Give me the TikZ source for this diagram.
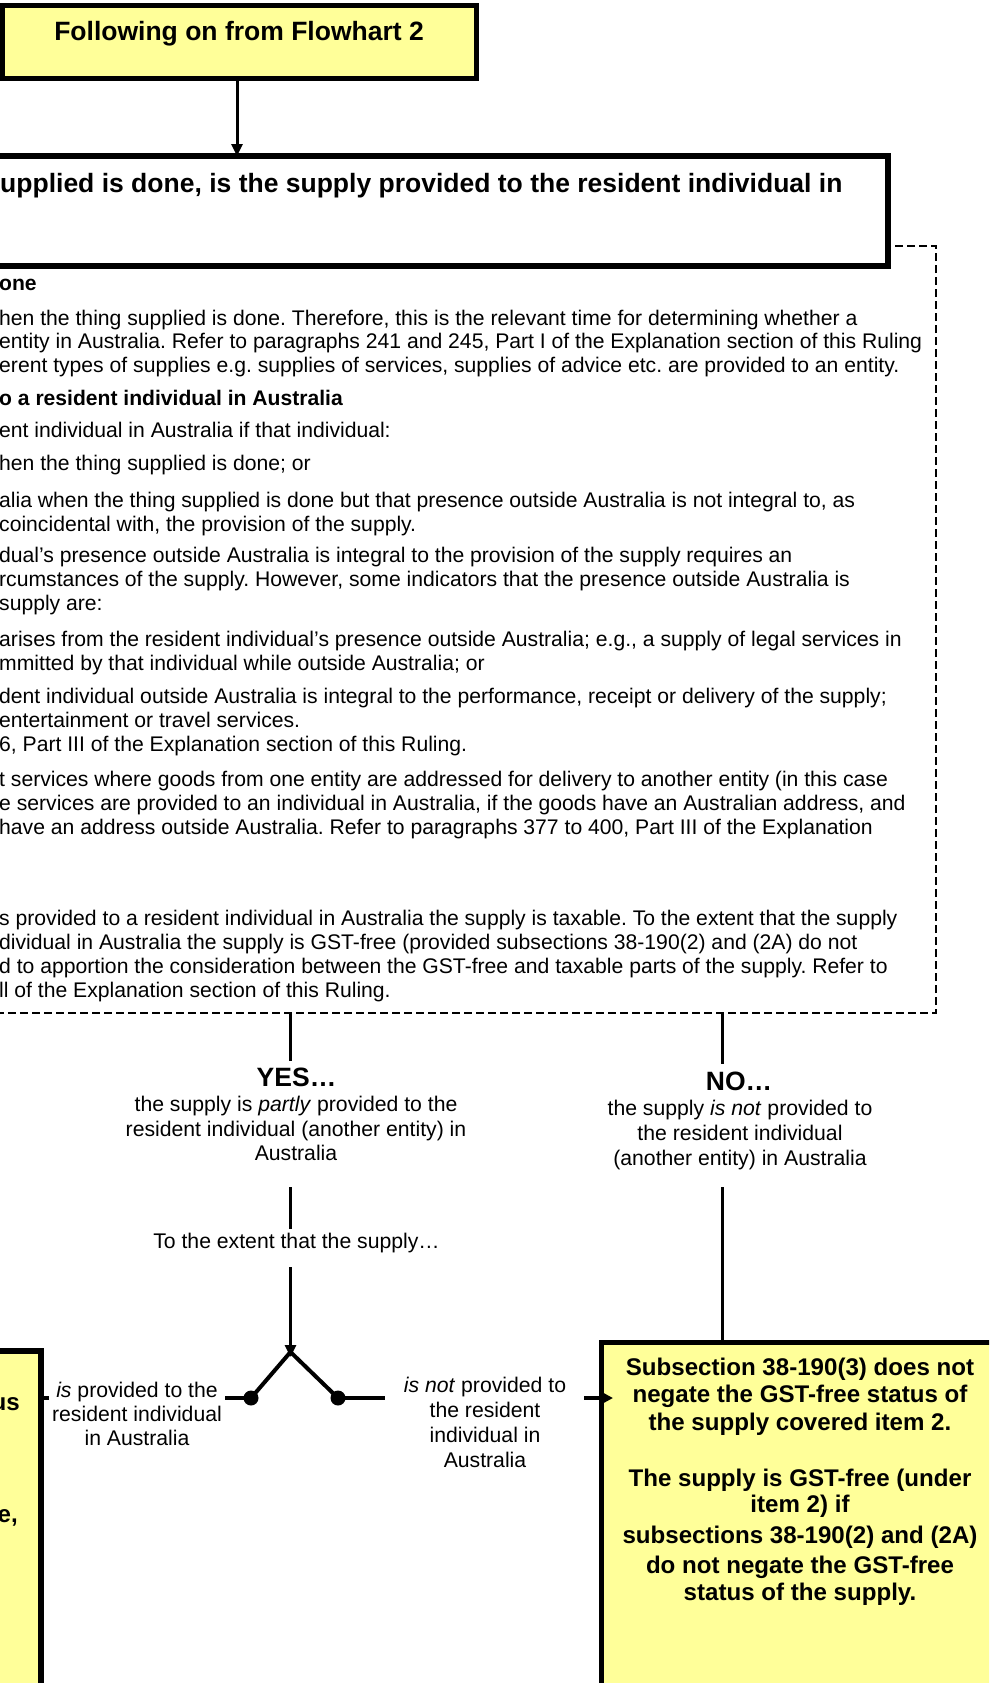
\documentclass[tikz,border=0pt]{standalone}
\usepackage{fontspec}
\setmainfont{Liberation Sans}
\usetikzlibrary{arrows.meta}
\definecolor{boxyellow}{HTML}{FFFF99}
\frenchspacing
\begin{document}
\begin{tikzpicture}[x=1pt,y=-1pt,
  body/.style={anchor=base west,inner sep=0pt,font=\fontsize{21.15}{23.3}\selectfont},
  bodyb/.style={anchor=base west,inner sep=0pt,font=\fontsize{21.1}{23.3}\selectfont\bfseries},
  lbl/.style={anchor=base,inner sep=0pt,font=\fontsize{21.2}{24.5}\selectfont},
  bigt/.style={anchor=base,inner sep=0pt,font=\fontsize{26.5}{30}\selectfont\bfseries},
  rtxt/.style={anchor=base,inner sep=0pt,font=\fontsize{24.1}{27.7}\selectfont\bfseries},
  conn/.style={line width=3pt},
  fork/.style={line width=4pt},
  tipd/.style={-{Triangle[length=12pt,width=11pt]}},
  ybox/.style={draw,line width=5pt,fill=boxyellow,inner sep=0pt,outer sep=0pt},
  wbox/.style={draw,line width=6pt,fill=white,inner sep=0pt,outer sep=0pt},
  dbox/.style={draw,line width=1.8pt,dash pattern=on 8pt off 4pt,inner sep=0pt,outer sep=0pt},
  dotn/.style={circle,fill=black,inner sep=0pt,minimum size=15pt},
]
\useasboundingbox (0,0) rectangle (989,1683);
\clip (0,0) rectangle (989,1683);
\fill[white] (0,0) rectangle (989,1683);

% dashed explanation box
\node[dbox,anchor=north west,minimum width=1336pt,minimum height=767pt] (expl) at (-400,246) {};
% question box
\node[wbox,anchor=north west,minimum width=1288pt,minimum height=110pt] (q) at (-400,156) {};
% top box
\node[ybox,anchor=north west,minimum width=474pt,minimum height=73pt] (top) at (2,5.7) {};
\node[bigt] (toptxt) at (239,41) {Following on from Flowhart 2};
\draw[conn,tipd] (237,78.7) coordinate (topout) -- (topout |- q.north);

\node[bigt,anchor=base west] (qtxt) at (0,192) {upplied is done, is the supply provided to the resident individual in};

% explanation text
\node[bodyb] (e1) at (-1,290) {one};
\node[body] (e2) at (-1,325) {hen the thing supplied is done. Therefore, this is the relevant time for determining whether a};
\node[body] (e3) at (-1,348.5) {entity in Australia. Refer to paragraphs 241 and 245, Part I of the Explanation section of this Ruling};
\node[body] (e4) at (-1,372) {erent types of supplies e.g. supplies of services, supplies of advice etc. are provided to an entity.};
\node[bodyb] (e5) at (-1,405) {o a resident individual in Australia};
\node[body] (e6) at (-1,437.5) {ent individual in Australia if that individual:};
\node[body] (e7) at (-1,470) {hen the thing supplied is done; or};
\node[body] (e8) at (-1,507) {alia when the thing supplied is done but that presence outside Australia is not integral to, as};
\node[body] (e9) at (-1,531) {coincidental with, the provision of the supply.};
\node[body] (e10) at (-1,562.5) {dual’s presence outside Australia is integral to the provision of the supply requires an};
\node[body] (e11) at (-1,586.5) {rcumstances of the supply. However, some indicators that the presence outside Australia is};
\node[body] (e12) at (-1,610) {supply are:};
\node[body] (e13) at (-1,646) {arises from the resident individual’s presence outside Australia; e.g., a supply of legal services in};
\node[body] (e14) at (-1,670) {mmitted by that individual while outside Australia; or};
\node[body] (e15) at (-1,703) {dent individual outside Australia is integral to the performance, receipt or delivery of the supply;};
\node[body] (e16) at (-1,727) {entertainment or travel services.};
\node[body] (e17) at (-1,751) {6, Part III of the Explanation section of this Ruling.};
\node[body] (e18) at (-1,786) {t services where goods from one entity are addressed for delivery to another entity (in this case};
\node[body] (e19) at (-1,810) {e services are provided to an individual in Australia, if the goods have an Australian address, and};
\node[body] (e20) at (-1,834) {have an address outside Australia. Refer to paragraphs 377 to 400, Part III of the Explanation};
\node[body] (e21) at (-1,925.5) {s provided to a resident individual in Australia the supply is taxable. To the extent that the supply};
\node[body] (e22) at (-1,949.5) {dividual in Australia the supply is GST-free (provided subsections 38-190(2) and (2A) do not};
\node[body] (e23) at (-1,973.5) {d to apportion the consideration between the GST-free and taxable parts of the supply. Refer to};
\node[body] (e24) at (-1,997) {ll of the Explanation section of this Ruling.};

% YES branch
\coordinate (ya) at (290.5,1013);
\coordinate (yb) at (290.5,1061);
\coordinate (yc) at (290.5,1187);
\coordinate (yd) at (290.5,1229);
\coordinate (ye) at (290.5,1267);
\coordinate (apex) at (290.5,1357);
\coordinate (fk) at (290.5,1352);
\draw[conn] (ya) -- (yb);
\node[bigt] (yes) at (296.5,1086) {YES…};
\node[lbl] (y1) at (296,1111.5) {the supply is \textit{partly} provided to the};
\node[lbl] (y2) at (296,1136.5) {resident individual (another entity) in};
\node[lbl] (y3) at (296,1160.5) {Australia};
\draw[conn] (yc) -- (yd);
\node[lbl] (ext) at (296.5,1248) {To the extent that the supply…};
\draw[conn,tipd] (ye) -- (apex);

% fork
\node[dotn] (ld) at (251,1398) {};
\node[dotn] (rd) at (338,1398) {};
\draw[fork,line join=round] (ld.center) -- (fk) -- (rd.center);
\coordinate (lend) at (225,1398);
\coordinate (lstub) at (49,1398);
\coordinate (rend) at (385,1398);
\coordinate (rstart) at (584,1398);
\draw[fork] (ld.center) -- (lend);
\draw[fork] (rd.center) -- (rend);

% NO branch
\coordinate (na) at (722,1013);
\coordinate (nb) at (722,1064);
\coordinate (nc) at (722,1187);
\draw[conn] (na) -- (nb);
\node[bigt] (no) at (739,1090) {NO…};
\node[lbl] (n1) at (740,1115) {the supply \textit{is not} provided to};
\node[lbl] (n2) at (740,1140) {the resident individual};
\node[lbl] (n3) at (740,1165) {(another entity) in Australia};

% left outcome box
\node[ybox,line width=5.5pt,anchor=north east,minimum width=500pt,minimum height=500pt] (lb) at (41,1351) {};
\node[rtxt,anchor=base east] (lb1) at (20,1410) {us};
\node[rtxt,anchor=base east] (lb2) at (18,1522) {e,};
\draw[fork] (lstub) -- (lstub -| lb.east);

% right outcome box
\node[ybox,anchor=north west,minimum width=420pt,minimum height=500pt] (rb) at (601,1342) {};
\draw[conn] (nc) -- (nc |- rb.north);
\draw[fork,-{Triangle[length=12pt,width=12pt]}] (rstart) -- (613,1398);
\node[rtxt] (r1) at (800,1375) {Subsection 38-190(3) does not};
\node[rtxt] (r2) at (800,1402.7) {negate the GST-free status of};
\node[rtxt] (r3) at (800,1430) {the supply covered item 2.};
\node[rtxt] (r4) at (800,1486) {The supply is GST-free (under};
\node[rtxt] (r5) at (800,1512.7) {item 2) if};
\node[rtxt] (r6) at (800,1543) {subsections 38-190(2) and (2A)};
\node[rtxt] (r7) at (800,1573) {do not negate the GST-free};
\node[rtxt] (r8) at (800,1600.7) {status of the supply.};

% fork labels
\node[lbl] (fl1) at (137,1397) {\textit{is} provided to the};
\node[lbl] (fl2) at (137,1421) {resident individual};
\node[lbl] (fl3) at (137,1445.5) {in Australia};
\node[lbl] (fr1) at (485,1392) {\textit{is not} provided to};
\node[lbl] (fr2) at (485,1417.5) {the resident};
\node[lbl] (fr3) at (485,1442.5) {individual in};
\node[lbl] (fr4) at (485,1467) {Australia};
\end{tikzpicture}
\end{document}
